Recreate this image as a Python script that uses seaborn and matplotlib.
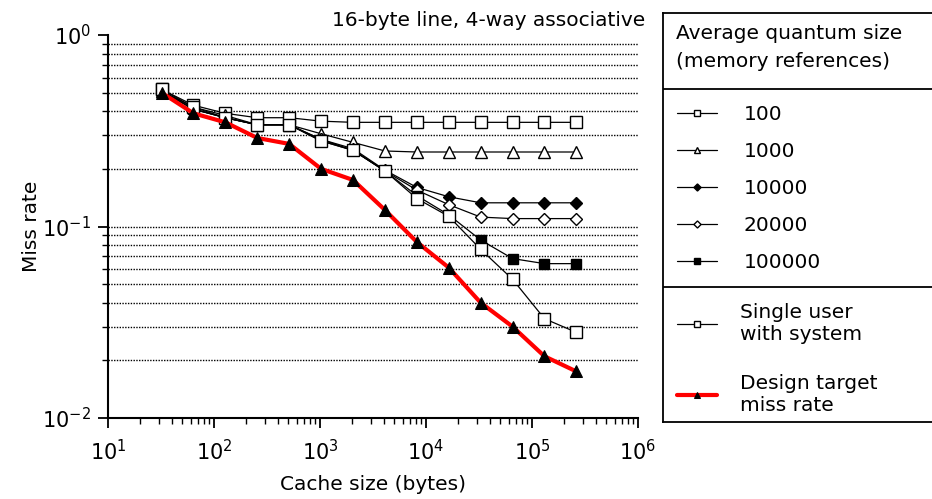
import numpy as np
import pandas as pd
import matplotlib
matplotlib.use('Agg')
import matplotlib.pyplot as plt
import seaborn as sns
from matplotlib.ticker import LogLocator, NullFormatter

# cache sizes (bytes) and miss rates
cache_size = [32, 64, 128, 256, 512, 1024, 2048, 4096, 8192, 16384, 32768, 65536, 131072, 262144]

q100 = [0.52, 0.43, 0.39, 0.37, 0.37, 0.355, 0.35, 0.35, 0.35, 0.35, 0.35, 0.35, 0.35, 0.35]
q1000 = [0.51, 0.42, 0.38, 0.34, 0.34, 0.305, 0.275, 0.248, 0.245, 0.245, 0.245, 0.245, 0.245, 0.245]
q10000 = [0.51, 0.41, 0.37, 0.34, 0.34, 0.285, 0.255, 0.197, 0.16, 0.143, 0.133, 0.133, 0.133, 0.133]
q20000 = [0.51, 0.41, 0.37, 0.34, 0.34, 0.285, 0.25, 0.195, 0.155, 0.13, 0.112, 0.11, 0.11, 0.11]
q100000 = [0.51, 0.41, 0.37, 0.34, 0.34, 0.28, 0.25, 0.195, 0.145, 0.115, 0.085, 0.068, 0.064, 0.064]
single_user = [0.52, 0.42, 0.37, 0.34, 0.34, 0.28, 0.25, 0.195, 0.14, 0.113, 0.076, 0.053, 0.033, 0.028]
design_target = [0.50, 0.39, 0.35, 0.29, 0.27, 0.20, 0.175, 0.122, 0.083, 0.061, 0.040, 0.030, 0.021, 0.0175]

quantum_labels = ['100', '1000', '10000', '20000', '100000']

sns.set_style('ticks')
plt.rcParams['font.family'] = ['DejaVu Sans']
plt.rcParams['text.color'] = 'black'
plt.rcParams['axes.labelcolor'] = 'black'

fig = plt.figure(figsize=(9.32, 4.99), dpi=100)
ax = fig.add_axes([0.1159, 0.1623, 0.5687, 0.7675])

fs = 14.5

# marker styles for each quantum series
styles = [
    dict(marker='s', markerfacecolor='white', markersize=8),
    dict(marker='^', markerfacecolor='white', markersize=8),
    dict(marker='D', markerfacecolor='black', markersize=6),
    dict(marker='D', markerfacecolor='white', markersize=6),
    dict(marker='s', markerfacecolor='black', markersize=7),
]
for vals, lab, st in zip([q100, q1000, q10000, q20000, q100000], quantum_labels, styles):
    sns.lineplot(x=cache_size, y=vals, ax=ax, color='black', lw=0.9,
                 markeredgecolor='black', markeredgewidth=1.0, label=lab, **st)

sns.lineplot(x=cache_size, y=single_user, ax=ax, color='black', lw=0.9,
             marker='s', markerfacecolor='white', markeredgecolor='black',
             markeredgewidth=1.0, markersize=8, label='Single user\nwith system')
sns.lineplot(x=cache_size, y=design_target, ax=ax, color='#ff0000', lw=3,
             marker='^', markerfacecolor='black', markeredgecolor='black',
             markersize=8, label='Design target\nmiss rate')

ax.set_xscale('log')
ax.set_yscale('log')
ax.set_xlim(10, 1e6)
ax.set_ylim(0.01, 1)

# dotted horizontal grid at minor ticks, plus 0.1
ax.yaxis.grid(True, which='minor', linestyle=(0, (1, 1)), color='black', lw=1.0)
ax.axhline(0.1, linestyle=(0, (1, 1)), color='black', lw=1.0, zorder=0.5)
ax.set_axisbelow(True)

ax.xaxis.set_major_locator(LogLocator(base=10, numticks=10))
ax.xaxis.set_minor_locator(LogLocator(base=10, subs=np.arange(2, 10), numticks=20))
ax.yaxis.set_minor_formatter(NullFormatter())
ax.xaxis.set_minor_formatter(NullFormatter())

for s in ['top', 'right']:
    ax.spines[s].set_visible(False)
for s in ['left', 'bottom']:
    ax.spines[s].set_linewidth(1.5)
    ax.spines[s].set_color('black')
ax.tick_params(which='major', length=7, width=1.3, labelsize=15, colors='black',
               direction='out', pad=5)
ax.tick_params(axis='x', which='major', pad=8)
ax.tick_params(which='minor', length=4, width=1.0, direction='out', color='black')

ax.set_xlabel('Cache size (bytes)', fontsize=fs, color='black', labelpad=8)
ax.set_ylabel('Miss rate', fontsize=fs, color='black', labelpad=1)
ax.get_legend().remove()

fig.text(645 / 932, 1 - 20 / 499, '16-byte line, 4-way associative', ha='right', va='center',
         fontsize=fs, color='black')

# legend panel on the right
lax = fig.add_axes([663 / 932, 77 / 499, 0.30, 409 / 499])
lax.set_xticks([])
lax.set_yticks([])
lax.set_xlim(0, 1)
lax.set_ylim(0, 1)
lax.patch.set_alpha(0)
for s in lax.spines.values():
    s.set_linewidth(1.3)
    s.set_color('black')

lax.text(0.045, 0.915, 'Average quantum size\n(memory references)', ha='left', va='center',
         fontsize=fs, linespacing=1.6, color='black')
lax.axhline(0.814, color='black', lw=1.3)
lax.axhline(0.330, color='black', lw=1.3)

handles, labels = ax.get_legend_handles_labels()
leg1 = lax.legend(handles[:5], labels[:5], loc='upper left', bbox_to_anchor=(0.0, 0.81),
                  frameon=False, fontsize=fs, markerscale=0.6, handlelength=2.0,
                  handletextpad=1.3, labelspacing=0.9, borderaxespad=0.3, labelcolor='black')
lax.add_artist(leg1)
leg2 = lax.legend(handles[5:], labels[5:], loc='upper left', bbox_to_anchor=(0.0, 0.325),
                  frameon=False, fontsize=fs, markerscale=0.6, handlelength=2.0,
                  handletextpad=1.1, labelspacing=1.5, borderaxespad=0.3, labelcolor='black')

fig.savefig('out.png', dpi=100)
